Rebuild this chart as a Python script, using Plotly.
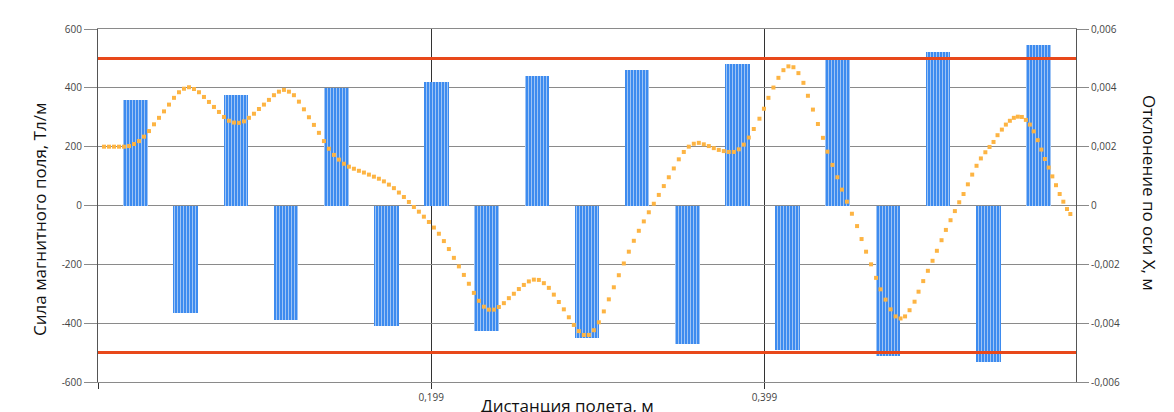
import plotly.graph_objects as go

# ---- data ----
block_x = [0.0216, 0.0517, 0.0818, 0.1119, 0.1420, 0.1721, 0.2022, 0.2323, 0.2624, 0.2925,
           0.3226, 0.3527, 0.3828, 0.4129, 0.4430, 0.4731, 0.5032, 0.5333, 0.5634]
field_values = [357, -365, 377, -388, 400, -409, 420, -428, 440, -450,
                461, -471, 481, -491, 498, -512, 523, -532, 546]

limit_values = [500, -500]

dev_x = [0.0026, 0.0056, 0.0086, 0.0116, 0.0146, 0.0176, 0.0206, 0.0236, 0.0266, 0.0296,
         0.0326, 0.0356, 0.0386, 0.0416, 0.0446, 0.0476, 0.0506, 0.0536, 0.0566, 0.0596,
         0.0626, 0.0656, 0.0686, 0.0716, 0.0746, 0.0776, 0.0806, 0.0836, 0.0866, 0.0896,
         0.0926, 0.0956, 0.0986, 0.1016, 0.1046, 0.1076, 0.1106, 0.1136, 0.1166, 0.1196,
         0.1226, 0.1256, 0.1286, 0.1316, 0.1346, 0.1376, 0.1406, 0.1436, 0.1466, 0.1496,
         0.1526, 0.1556, 0.1586, 0.1616, 0.1646, 0.1676, 0.1706, 0.1736, 0.1766, 0.1796,
         0.1826, 0.1856, 0.1886, 0.1916, 0.1946, 0.1976, 0.2006, 0.2036, 0.2066, 0.2096,
         0.2126, 0.2156, 0.2186, 0.2216, 0.2246, 0.2276, 0.2306, 0.2336, 0.2366, 0.2396,
         0.2426, 0.2456, 0.2486, 0.2516, 0.2546, 0.2576, 0.2606, 0.2636, 0.2666, 0.2696,
         0.2726, 0.2756, 0.2786, 0.2816, 0.2846, 0.2876, 0.2906, 0.2936, 0.2966, 0.2996,
         0.3026, 0.3056, 0.3086, 0.3116, 0.3146, 0.3176, 0.3206, 0.3236, 0.3266, 0.3296,
         0.3326, 0.3356, 0.3386, 0.3416, 0.3446, 0.3476, 0.3506, 0.3536, 0.3566, 0.3596,
         0.3626, 0.3656, 0.3686, 0.3716, 0.3746, 0.3776, 0.3806, 0.3836, 0.3866, 0.3896,
         0.3926,
         0.3960, 0.3987, 0.4014, 0.4044, 0.4074, 0.4104, 0.4134, 0.4164, 0.4194, 0.4224,
         0.4251, 0.4281, 0.4311, 0.4341, 0.4368, 0.4398, 0.4428, 0.4455, 0.4485, 0.4515,
         0.4546, 0.4573, 0.4600, 0.4630, 0.4660, 0.4687, 0.4717, 0.4747, 0.4777, 0.4807,
         0.4834, 0.4861,
         0.4891, 0.4915, 0.4943, 0.4971, 0.4999, 0.5025, 0.5053, 0.5079, 0.5107, 0.5133,
         0.5159, 0.5185, 0.5211, 0.5237, 0.5263, 0.5289, 0.5316, 0.5341, 0.5365, 0.5389,
         0.5415, 0.5439, 0.5463, 0.5487, 0.5511, 0.5535, 0.5559, 0.5583, 0.5606, 0.5630,
         0.5652, 0.5673, 0.5696, 0.5718, 0.5740, 0.5762, 0.5784, 0.5806, 0.5826]

dev_mm = [2.00, 2.00, 2.00, 2.00, 2.00, 2.02, 2.09, 2.19, 2.34, 2.53,
          2.76, 2.98, 3.20, 3.43, 3.66, 3.85, 3.97, 4.02, 3.96, 3.85,
          3.69, 3.52, 3.35, 3.18, 3.01, 2.88, 2.82, 2.81, 2.86, 2.98,
          3.12, 3.28, 3.43, 3.59, 3.75, 3.87, 3.93, 3.87, 3.75, 3.53,
          3.27, 3.00, 2.74, 2.47, 2.19, 1.93, 1.72, 1.56, 1.42, 1.32,
          1.25, 1.18, 1.12, 1.05, 0.98, 0.91, 0.82, 0.71, 0.59, 0.44,
          0.29, 0.12, -0.05, -0.21, -0.38, -0.56, -0.75, -0.96, -1.21, -1.48,
          -1.78, -2.07, -2.36, -2.66, -2.97, -3.24, -3.44, -3.54, -3.54, -3.45,
          -3.32, -3.15, -3.00, -2.84, -2.70, -2.58, -2.52, -2.53, -2.64, -2.80,
          -3.03, -3.28, -3.53, -3.80, -4.06, -4.27, -4.40, -4.40, -4.24, -3.97,
          -3.60, -3.19, -2.78, -2.37, -1.97, -1.57, -1.20, -0.86, -0.54, -0.23,
          0.06, 0.36, 0.66, 0.96, 1.26, 1.57, 1.82, 2.00, 2.10, 2.13,
          2.08, 2.02, 1.95, 1.89, 1.85, 1.82, 1.82, 1.91, 2.07, 2.31,
          2.60,
          2.95, 3.29, 3.66, 4.01, 4.34, 4.60, 4.73, 4.70, 4.50, 4.17,
          3.73, 3.26, 2.77, 2.30, 1.83, 1.38, 0.96, 0.54, 0.13, -0.28,
          -0.70, -1.14, -1.57, -2.00, -2.46, -2.85, -3.20, -3.53, -3.77, -3.84,
          -3.77, -3.56,
          -3.27, -2.93, -2.57, -2.22, -1.88, -1.54, -1.18, -0.83, -0.50, -0.19,
          0.11, 0.39, 0.72, 1.05, 1.35, 1.60, 1.81, 1.99, 2.16, 2.39,
          2.58, 2.75, 2.88, 2.98, 3.02, 3.01, 2.91, 2.75, 2.52, 2.22,
          1.90, 1.58, 1.29, 0.99, 0.69, 0.39, 0.13, -0.12, -0.29]

left_ticks = [-600, -400, -200, 0, 200, 400, 600]
left_labels = ["-600", "-400", "-200", "0", "200", "400", "600"]
right_ticks = [-0.006, -0.004, -0.002, 0, 0.002, 0.004, 0.006]
right_labels = ["-0,006", "-0,004", "-0,002", "0", "0,002", "0,004", "0,006"]
x_ticks = [-0.001, 0.199, 0.399]
x_labels = ["", "0,199", "0,399"]

dev_m = [v / 1000 for v in dev_mm]

# ---- figure ----
fig = go.Figure()

fig.add_trace(go.Bar(
    x=block_x, y=field_values, width=0.0148,
    marker=dict(color="#3d8bef", line=dict(width=0),
                pattern=dict(shape="|", fgcolor="#a9cbf6", bgcolor="#3d8bef",
                             size=3, solidity=0.3, fillmode="replace")),
    showlegend=False, hoverinfo="skip",
))

fig.add_trace(go.Scatter(
    x=dev_x, y=dev_m, yaxis="y2", mode="markers",
    marker=dict(symbol="square", size=4, color="#fdb443", line=dict(width=0)),
    showlegend=False,
))

for lv in limit_values:
    fig.add_shape(type="line", xref="paper", x0=0, x1=1, yref="y", y0=lv, y1=lv,
                  line=dict(color="#e8481a", width=3), layer="above")

tick_font = dict(family="Open Sans, Arial, sans-serif", size=10, color="#444444")
title_font = dict(family="Open Sans, Arial, sans-serif", size=17, color="#111111")

fig.update_layout(
    width=1174, height=412,
    margin=dict(l=98, r=98, t=29, b=30, autoexpand=False),
    paper_bgcolor="white", plot_bgcolor="white",
    bargap=0,
    xaxis=dict(range=[-0.001, 0.586], tickvals=x_ticks, ticktext=x_labels,
               showgrid=True, gridcolor="#333333", gridwidth=1,
               ticks="outside", ticklen=6, tickcolor="#333333",
               showline=True, linecolor="#8a8a8a", linewidth=1, mirror=True,
               zeroline=False, tickfont=tick_font, automargin=False),
    yaxis=dict(range=[-600, 600], tickvals=left_ticks, ticktext=left_labels,
               showgrid=True, gridcolor="#8a8a8a", gridwidth=1,
               ticks="outside", ticklen=13, tickcolor="#8a8a8a",
               showline=True, linecolor="#555555", linewidth=1,
               zeroline=False, tickfont=tick_font, automargin=False),
    yaxis2=dict(range=[-0.006, 0.006], tickvals=right_ticks, ticktext=right_labels,
                overlaying="y", side="right", showgrid=False,
                ticks="outside", ticklen=12, tickcolor="#8a8a8a",
                showline=True, linecolor="#555555", linewidth=1,
                zeroline=False, tickfont=tick_font, automargin=False),
    annotations=[
        dict(text="Сила магнитного поля, Тл/м", xref="paper", yref="paper",
             x=-0.0593, y=0.459, textangle=-90, showarrow=False,
             xanchor="center", yanchor="middle", font=title_font),
        dict(text="Отклонение по оси X, м", xref="paper", yref="paper",
             x=1.0757, y=0.535, textangle=90, showarrow=False,
             xanchor="center", yanchor="middle", font=title_font),
        dict(text="Дистанция полета, м", xref="paper", yref="paper",
             x=0.4796, y=-0.028, showarrow=False,
             xanchor="center", yanchor="top", font=title_font),
    ],
)

# remove the default page margin so the figure sits at the window's top-left corner
fig.write_html("out.html", config={"displayModeBar": False},
               post_script="document.body.style.margin='0';document.body.style.overflow='hidden';")
